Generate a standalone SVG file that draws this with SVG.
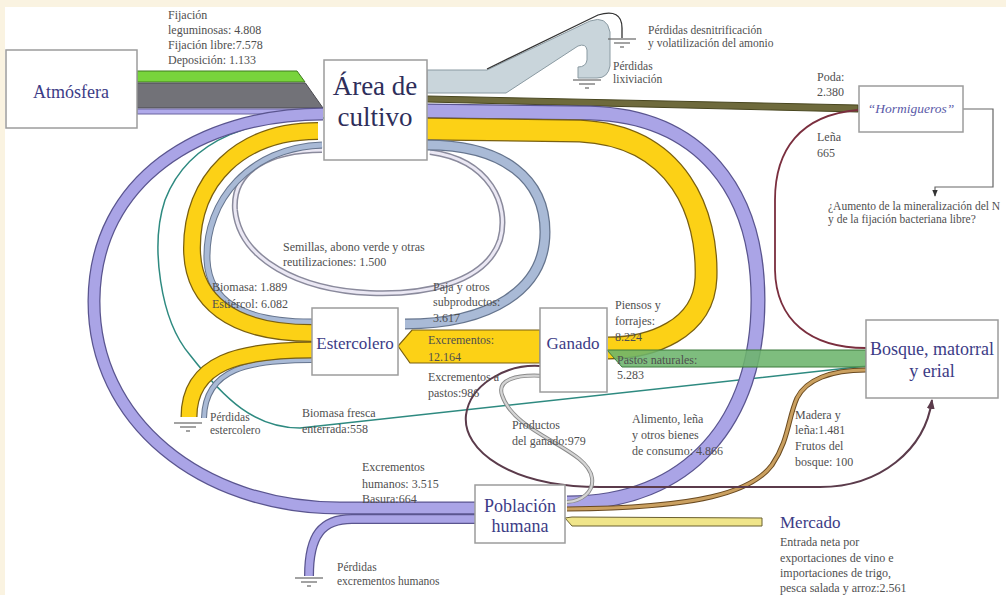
<svg xmlns="http://www.w3.org/2000/svg" width="1006" height="595" viewBox="0 0 1006 595">
<style>
.lbl{font-family:"Liberation Serif",serif;font-size:12px;fill:#4f4f4f}
.sm{font-family:"Liberation Serif",serif;font-size:11.5px;fill:#4f4f4f}
.node{fill:#fff;stroke:#9c9c9c;stroke-width:1.5}
.nt{font-family:"Liberation Serif",serif;fill:#3c3c86;text-anchor:middle}
.b{fill:none;stroke-linejoin:round;stroke-linecap:butt}
.yo{stroke:#7a6010}.yi{stroke:#fcd116}
.po{stroke:#5a558f}.pi{stroke:#aaa4e6}
.bo{stroke:#66758e}.bi{stroke:#a9bad6}
.gnd line{stroke:#666;stroke-width:1.2}
</style>
<defs>
<g id="gnd" class="gnd"><line x1="-14" y1="0" x2="14" y2="0"/><line x1="-8" y1="4" x2="8" y2="4"/><line x1="-2" y1="8" x2="2" y2="8"/></g>
<marker id="ah" viewBox="0 0 10 10" refX="9" refY="5" markerWidth="6" markerHeight="6" orient="auto"><path d="M0,1 L10,5 L0,9 Z" fill="#333"/></marker>
<marker id="ahp" viewBox="0 0 10 10" refX="9" refY="5" markerWidth="5" markerHeight="5" orient="auto"><path d="M0,1 L10,5 L0,9 Z" fill="#5b3b4b"/></marker>
</defs>
<rect x="0" y="0" width="1006" height="595" fill="#faf3e1"/>
<rect x="5" y="7" width="1001" height="588" fill="#ffffff"/>

<g id="connectors">
<polygon points="137,71 297,71 305,82 137,82" fill="#78d43c" stroke="#3e7a1e" stroke-width="1"/>
<polygon points="137,83 305.4,83 323,108 137,108" fill="#727278" stroke="#4a4a50" stroke-width="1"/>
<polygon points="137,109 323,109 314,114 137,114" fill="#b0aaea" stroke="#6a65a0" stroke-width="1"/>
<path d="M427,70 L487,70 L590,21 Q607,15 610,32 L610,66 Q608,78 597,78 L578,78 L578,67 Q586,67 587,60 L587,50 Q586,43 578,46 L506,93 L427,93 Z" fill="#c9d5db" stroke="#8a9aa2" stroke-width="1"/>
<path d="M487,69 L598,15 Q622,8 622,28 L622,38" fill="none" stroke="#333" stroke-width="1.3"/>
<use href="#gnd" x="622" y="39"/>
<use href="#gnd" x="587" y="80"/>
<polygon points="427,96 858,105 858,112 427,102" fill="#6e6a3c" stroke="#48461f" stroke-width="1"/>
<path class="b" d="M430,152 C490,160 510,205 500,240 C485,285 420,295 370,293 C300,290 240,260 235,210 C232,170 270,150 322,150" stroke="#8a8a9c" stroke-width="6"/>
<path class="b" d="M430,152 C490,160 510,205 500,240 C485,285 420,295 370,293 C300,290 240,260 235,210 C232,170 270,150 322,150" stroke="#ebe8f4" stroke-width="3"/>
<path class="b" d="M324,118 C260,118 190,135 165,200 C150,245 160,320 190,355 C225,400 255,428 300,428 L866,366" stroke="#2e8a80" stroke-width="1.5"/>
<path class="b po" stroke-width="13" d="M475,508 L340,508 C200,508 93,420 94,300 C95,180 200,114 323,114"/>
<path class="b pi" stroke-width="10.5" d="M475,508 L340,508 C200,508 93,420 94,300 C95,180 200,114 323,114"/>
<path class="b po" stroke-width="10" d="M475,519 L352,519 C322,519 309,535 309,576"/>
<path class="b pi" stroke-width="7.5" d="M475,519 L352,519 C322,519 309,535 309,576"/>
<use href="#gnd" x="309" y="578"/>
<path class="b bo" stroke-width="7" d="M322,145 C250,148 205,200 207,260 C209,300 240,322 312,322"/>
<path class="b bi" stroke-width="5" d="M322,145 C250,148 205,200 207,260 C209,300 240,322 312,322"/>
<path class="b bo" stroke-width="6" d="M312,360 C250,360 205,368 204,418"/>
<path class="b bi" stroke-width="4" d="M312,360 C250,360 205,368 204,418"/>
<path class="b yo" stroke-width="18" d="M312,333 C230,333 193,300 192,250 C191,180 240,131 318,131"/>
<path class="b yi" stroke-width="15.5" d="M312,333 C230,333 193,300 192,250 C191,180 240,131 318,131"/>
<path class="b yo" stroke-width="17" d="M312,350 C240,350 189,362 189,417"/>
<path class="b yi" stroke-width="14.5" d="M312,350 C240,350 189,362 189,417"/>
<use href="#gnd" x="188" y="423"/>
<path class="b po" stroke-width="15" d="M427,111 L590,113 C700,116 758,190 758,300 C758,420 690,503 567,503"/>
<path class="b pi" stroke-width="12.5" d="M427,111 L590,113 C700,116 758,190 758,300 C758,420 690,503 567,503"/>
<path class="b yo" stroke-width="23" d="M427,129 L580,131 C680,136 708,215 706,278 C704,330 650,348 608,348"/>
<path class="b yi" stroke-width="20.5" d="M427,129 L580,131 C680,136 708,215 706,278 C704,330 650,348 608,348"/>
<path class="b bo" stroke-width="11" d="M427,145 C505,145 545,180 545,232 C545,290 490,324 405,324"/>
<path class="b bi" stroke-width="8.5" d="M427,145 C505,145 545,180 545,232 C545,290 490,324 405,324"/>
<polygon points="540,330 412,330 398,346 410,363 540,363" fill="#fcd116" stroke="#7a6010" stroke-width="1.2"/>
<polygon points="866,350 607,350 622,367 866,367" fill="#6cb46c" fill-opacity="0.88" stroke="#3d7a3d" stroke-width="1"/>
<path class="b" d="M866,348 C810,348 776,320 775,270 L775,200 C775,150 800,115 858,110" stroke="#7a2e3e" stroke-width="1.8"/>
<path class="b" d="M866,370 C830,370 806,380 797,398 C788,418 789,440 772,465 C752,492 700,508 567,509" stroke="#6a4a20" stroke-width="5"/>
<path class="b" d="M866,370 C830,370 806,380 797,398 C788,418 789,440 772,465 C752,492 700,508 567,509" stroke="#caa060" stroke-width="3"/>
<path class="b" d="M540,366 C505,364 470,385 466,415 C462,450 510,487 600,487 L820,487 C880,487 925,450 932,400" stroke="#5b3b4b" stroke-width="2" marker-end="url(#ahp)"/>
<path class="b" d="M545,376 C515,374 497,380 502,395 C515,435 588,448 592,478 C594,492 582,501 567,502" stroke="#8a8a8a" stroke-width="4"/>
<path class="b" d="M545,376 C515,374 497,380 502,395 C515,435 588,448 592,478 C594,492 582,501 567,502" stroke="#d4d4d4" stroke-width="2.2"/>
<polygon points="565,518 572,517 762,518 762,526 572,526" fill="#f0e58a" stroke="#6a6030" stroke-width="1"/>
<path d="M963,109 L993,109 L993,187 L935,187 L935,196" fill="none" stroke="#666" stroke-width="1.2" marker-end="url(#ah)"/>
</g>

<g id="atmosfera"><rect class="node" x="6" y="50" width="131" height="78"/><text class="nt" x="71" y="98" font-size="18">Atmósfera</text></g>
<g id="area-cultivo"><rect class="node" x="324" y="60" width="103" height="100"/><text class="nt" x="375" y="95" font-size="27" style="fill:#2e2e5a">Área de</text><text class="nt" x="375" y="126" font-size="27" style="fill:#2e2e5a">cultivo</text></g>
<g id="hormigueros"><rect class="node" x="859" y="86" width="104" height="46"/><text class="nt" x="911" y="113" font-size="13.5" font-style="italic" style="fill:#5a5aa8">“Hormigueros”</text></g>
<g id="estercolero"><rect class="node" x="312" y="308" width="86" height="67"/><text class="nt" x="355" y="349" font-size="17">Estercolero</text></g>
<g id="ganado"><rect class="node" x="540" y="308" width="67" height="84"/><text class="nt" x="573" y="349" font-size="17">Ganado</text></g>
<g id="bosque"><rect class="node" x="866" y="320" width="132" height="78"/><text class="nt" x="932" y="355" font-size="18">Bosque, matorral</text><text class="nt" x="932" y="377" font-size="18">y erial</text></g>
<g id="poblacion"><rect class="node" x="475" y="485" width="90" height="58"/><text class="nt" x="520" y="512" font-size="18">Población</text><text class="nt" x="520" y="532" font-size="18">humana</text></g>
<g id="mercado"><text class="nt" x="780" y="528" font-size="17" style="text-anchor:start">Mercado</text></g>

<g id="labels">
<text class="lbl" x="168" y="19" font-size="12.5">Fijación</text>
<text class="lbl" x="168" y="34" font-size="12.5">leguminosas: 4.808</text>
<text class="lbl" x="168" y="49" font-size="12.5">Fijación libre:7.578</text>
<text class="lbl" x="168" y="64" font-size="12.5">Deposición: 1.133</text>
<text class="sm" x="648" y="34">Pérdidas desnitrificación</text>
<text class="sm" x="648" y="47">y volatilización del amonio</text>
<text class="sm" x="613" y="70">Pérdidas</text>
<text class="sm" x="613" y="83">lixiviación</text>
<text class="lbl" x="817" y="81">Poda:</text>
<text class="lbl" x="817" y="96">2.380</text>
<text class="lbl" x="817" y="141">Leña</text>
<text class="lbl" x="817" y="157">665</text>
<text class="sm" x="828" y="210">¿Aumento de la mineralización del N</text>
<text class="sm" x="828" y="223">y de la fijación bacteriana libre?</text>
<text class="lbl" x="283" y="251">Semillas, abono verde y otras</text>
<text class="lbl" x="283" y="266">reutilizaciones: 1.500</text>
<text class="lbl" x="212" y="291">Biomasa: 1.889</text>
<text class="lbl" x="212" y="308">Estiércol: 6.082</text>
<text class="lbl" x="433" y="291">Paja y otros</text>
<text class="lbl" x="433" y="306">subproductos:</text>
<text class="lbl" x="433" y="322">3.617</text>
<text class="lbl" x="428" y="344">Excrementos:</text>
<text class="lbl" x="428" y="361">12.164</text>
<text class="lbl" x="428" y="381">Excrementos a</text>
<text class="lbl" x="428" y="397">pastos:986</text>
<text class="lbl" x="615" y="309">Piensos y</text>
<text class="lbl" x="615" y="325">forrajes:</text>
<text class="lbl" x="615" y="341">8.224</text>
<text class="lbl" x="617" y="364">Pastos naturales:</text>
<text class="lbl" x="617" y="379">5.283</text>
<text class="lbl" x="795" y="419">Madera y</text>
<text class="lbl" x="795" y="434">leña:1.481</text>
<text class="lbl" x="795" y="450">Frutos del</text>
<text class="lbl" x="795" y="466">bosque: 100</text>
<text class="lbl" x="632" y="423">Alimento, leña</text>
<text class="lbl" x="632" y="439">y otros bienes</text>
<text class="lbl" x="632" y="455">de consumo: 4.866</text>
<text class="lbl" x="512" y="429">Productos</text>
<text class="lbl" x="512" y="445">del ganado:979</text>
<text class="lbl" x="302" y="417">Biomasa fresca</text>
<text class="lbl" x="302" y="433">enterrada:558</text>
<text class="sm" x="210" y="421">Pérdidas</text>
<text class="sm" x="210" y="434">estercolero</text>
<text class="lbl" x="362" y="471">Excrementos</text>
<text class="lbl" x="362" y="488">humanos: 3.515</text>
<text class="lbl" x="362" y="503">Basura:664</text>
<text class="sm" x="337" y="571">Pérdidas</text>
<text class="sm" x="337" y="585">excrementos humanos</text>
<text class="lbl" x="780" y="546" font-size="11">Entrada neta por</text>
<text class="lbl" x="780" y="562" font-size="11">exportaciones de vino e</text>
<text class="lbl" x="780" y="577" font-size="11">importaciones de trigo,</text>
<text class="lbl" x="780" y="592" font-size="11">pesca salada y arroz:2.561</text>
</g>
</svg>
